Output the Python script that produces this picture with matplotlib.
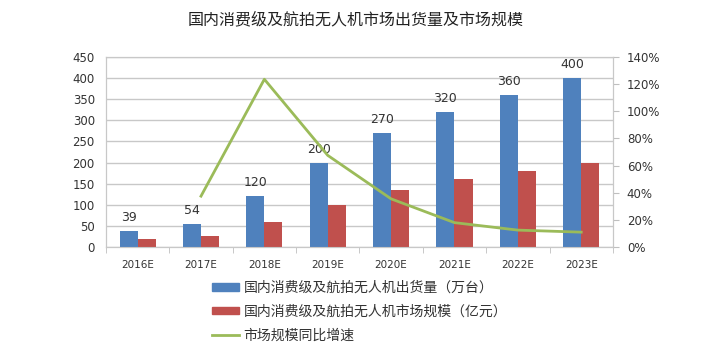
import numpy as np
import matplotlib.pyplot as plt
from matplotlib.patches import Patch
from matplotlib.lines import Line2D

plt.rcParams['font.family'] = ['DejaVu Sans', 'Noto Sans CJK SC']
cjk = ['Noto Sans CJK SC', 'DejaVu Sans']

years = ['2016E', '2017E', '2018E', '2019E', '2020E', '2021E', '2022E', '2023E']
shipments = [39, 54, 120, 200, 270, 320, 360, 400]      # 万台
market = [20, 27, 60, 100, 135, 160, 180, 200]          # 亿元
growth_years = years[1:]
growth = [37.5, 123.5, 67.5, 35.5, 18, 12.5, 11]          # %

blue = '#4f81bd'
red = '#c0504d'
green = '#9bbb59'

fig = plt.figure(figsize=(7.11, 3.53), dpi=100)
ax = fig.add_axes([0.149, 0.300, 0.713, 0.539])
x = np.arange(len(years))
w = 0.285
ax.bar(x - w / 2, shipments, w, color=blue, zorder=3)
ax.bar(x + w / 2, market, w, color=red, zorder=3)
for xi, v in zip(x, shipments):
    ax.annotate(str(v), (xi - w / 2, v), xytext=(0, 5), textcoords='offset points',
                ha='center', va='bottom', fontsize=9, color='#333333')

ax.set_xlim(-0.5, len(years) - 0.5)
ax.set_ylim(0, 450)
ax.set_yticks(range(0, 451, 50))
ax.set_xticks(x)
ax.set_xticklabels(years, fontsize=7.5, color='#333333')
ax.tick_params(axis='x', length=0, pad=9)
ax.tick_params(axis='y', length=0, labelsize=8.5, colors='#333333', pad=8)
ax.set_xticks(np.arange(-0.5, len(years)), minor=True)
ax.tick_params(axis='x', which='minor', length=4, color='#bfbfbf')
ax.grid(True, axis='y', color='#c8c8c8', linewidth=1, zorder=0)
for s in ax.spines.values():
    s.set_color('#c8c8c8')

ax2 = ax.twinx()
ax2.plot([years.index(y) for y in growth_years], growth, color=green, linewidth=2)
ax2.set_ylim(0, 140)
ax2.set_yticks(range(0, 141, 20))
ax2.set_yticklabels([f'{v}%' for v in range(0, 141, 20)])
ax2.tick_params(axis='y', length=4, color='#bfbfbf', labelsize=8.5, colors='#333333', pad=6)
for s in ax2.spines.values():
    s.set_color('#c8c8c8')

fig.text(0.5, 0.945, '国内消费级及航拍无人机市场出货量及市场规模', ha='center', va='center',
         fontsize=11.5, color='#222222', family=cjk)

handles = [Patch(color=blue), Patch(color=red), Line2D([], [], color=green, linewidth=2)]
labels = ['国内消费级及航拍无人机出货量（万台）', '国内消费级及航拍无人机市场规模（亿元）', '市场规模同比增速']
fig.legend(handles, labels, loc='lower left', bbox_to_anchor=(0.28, -0.005), frameon=False,
           prop={'family': cjk, 'size': 10}, handlelength=2.0, handleheight=0.45,
           labelspacing=0.7, handletextpad=0.3, labelcolor='#333333')

fig.savefig('out.png', dpi=100)
